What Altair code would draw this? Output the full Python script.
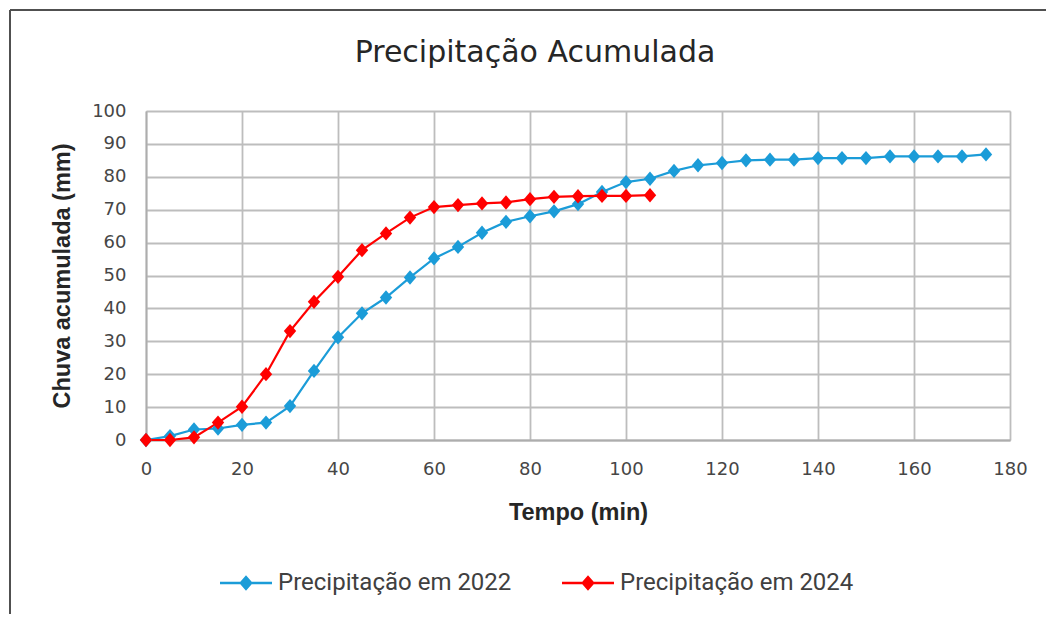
import altair as alt
import pandas as pd

# ---- data ----
tempo_2022 = [0, 5, 10, 15, 20, 25, 30, 35, 40, 45, 50, 55, 60, 65, 70, 75, 80, 85,
              90, 95, 100, 105, 110, 115, 120, 125, 130, 135, 140, 145, 150, 155,
              160, 165, 170, 175]
chuva_2022 = [0, 1.2, 3.2, 3.5, 4.6, 5.3, 10.3, 21.0, 31.2, 38.5, 43.3, 49.4, 55.2,
              58.7, 63.0, 66.3, 68.0, 69.5, 71.7, 75.4, 78.4, 79.4, 81.8, 83.5, 84.2,
              85.0, 85.2, 85.2, 85.7, 85.7, 85.7, 86.2, 86.2, 86.2, 86.2, 86.8]
tempo_2024 = [0, 5, 10, 15, 20, 25, 30, 35, 40, 45, 50, 55, 60, 65, 70, 75, 80, 85,
              90, 95, 100, 105]
chuva_2024 = [0, 0, 0.8, 5.3, 10.1, 20.0, 33.1, 42.0, 49.6, 57.7, 62.8, 67.6, 70.8,
              71.4, 71.9, 72.2, 73.2, 73.9, 74.1, 74.2, 74.2, 74.4]
series = ["Precipitação em 2022", "Precipitação em 2024"]
colors = ["#1B9CD8", "#FF0000"]
x_ticks = [0, 20, 40, 60, 80, 100, 120, 140, 160, 180]
y_ticks = [0, 10, 20, 30, 40, 50, 60, 70, 80, 90, 100]

df = pd.concat([
    pd.DataFrame({"tempo": tempo_2022, "chuva": chuva_2022, "serie": series[0]}),
    pd.DataFrame({"tempo": tempo_2024, "chuva": chuva_2024, "serie": series[1]}),
], ignore_index=True)

W, H = 864, 329
PAD_L, PAD_T, PAD_R, PAD_B = 138, 103, 36, 174

diamond = "M0,-1.1L0.95,0L0,1.1L-0.95,0Z"
legend_sym = "M-1,-0.045H1V0.045H-1Z M0,-0.3L0.26,0L0,0.3L-0.26,0Z"

axis_common = dict(labelOverlap=False, labelFlush=False, ticks=False, labelPadding=20,
                   labelFont="DejaVu Sans", labelFontSize=18, labelColor="#464646",
                   titleFont="Liberation Sans", titleFontSize=23.5, titleFontWeight="bold",
                   titleColor="#262626", titleAlign="center", titleBaseline="middle",
                   grid=True, gridColor="#BDBDBD", gridWidth=1.8,
                   domainColor="#ADADAD", domainWidth=1.8)

x_enc = alt.X("tempo:Q",
              scale=alt.Scale(domain=[0, 180], nice=False, zero=True),
              axis=alt.Axis(values=x_ticks, tickCount=len(x_ticks), title="Tempo (min)",
                            titleX=W / 2, titleY=72, **axis_common))
y_enc = alt.Y("chuva:Q",
              scale=alt.Scale(domain=[0, 100], nice=False),
              axis=alt.Axis(values=y_ticks, tickCount=len(y_ticks),
                            title="Chuva acumulada (mm)", titleX=-84,
                            titleY=H / 2, titleAngle=270, **axis_common))

legend = alt.Legend(orient="none", legendX=74, legendY=446,
                    direction="horizontal", title=None,
                    symbolType=legend_sym, symbolSize=2704,
                    symbolStrokeWidth=0, labelOffset=6,
                    columnPadding=50, padding=0,
                    labelFont="Roboto", labelFontSize=24,
                    labelColor="#404040", labelLimit=400)
color_enc = alt.Color("serie:N", scale=alt.Scale(domain=series, range=colors),
                      legend=legend)

base = alt.Chart(df)

lines = base.mark_line(strokeWidth=2.2).encode(
    x=x_enc, y=y_enc, color=color_enc,
)

points = base.mark_point(shape=diamond, filled=True, size=170, opacity=1).encode(
    x=x_enc, y=y_enc, color=color_enc,
)

frame_df = pd.DataFrame({"k": [0]})
left_border = alt.Chart(frame_df).mark_rule(color="#505050", strokeWidth=2).encode(
    x=alt.value(-136), y=alt.value(-101), y2=alt.value(H + PAD_B + 20))
top_border = alt.Chart(frame_df).mark_rule(color="#505050", strokeWidth=2).encode(
    y=alt.value(-101), x=alt.value(-136), x2=alt.value(W + PAD_R + 20))

chart = alt.layer(lines, points, left_border, top_border).properties(
    width=W, height=H,
    title=alt.TitleParams("Precipitação Acumulada", font="DejaVu Sans", fontSize=30,
                          fontWeight="normal", color="#262626", anchor="middle",
                          dx=-43, offset=-59),
    autosize=alt.AutoSizeParams(type="none"),
    padding={"left": PAD_L, "top": PAD_T, "right": PAD_R, "bottom": PAD_B},
).configure_axis(
    labelOverlap=False,
).configure_view(
    stroke="#BDBDBD", strokeWidth=1.8,
).configure(background="white")

chart.save("out.html", embed_options={"renderer": "svg", "actions": False})
